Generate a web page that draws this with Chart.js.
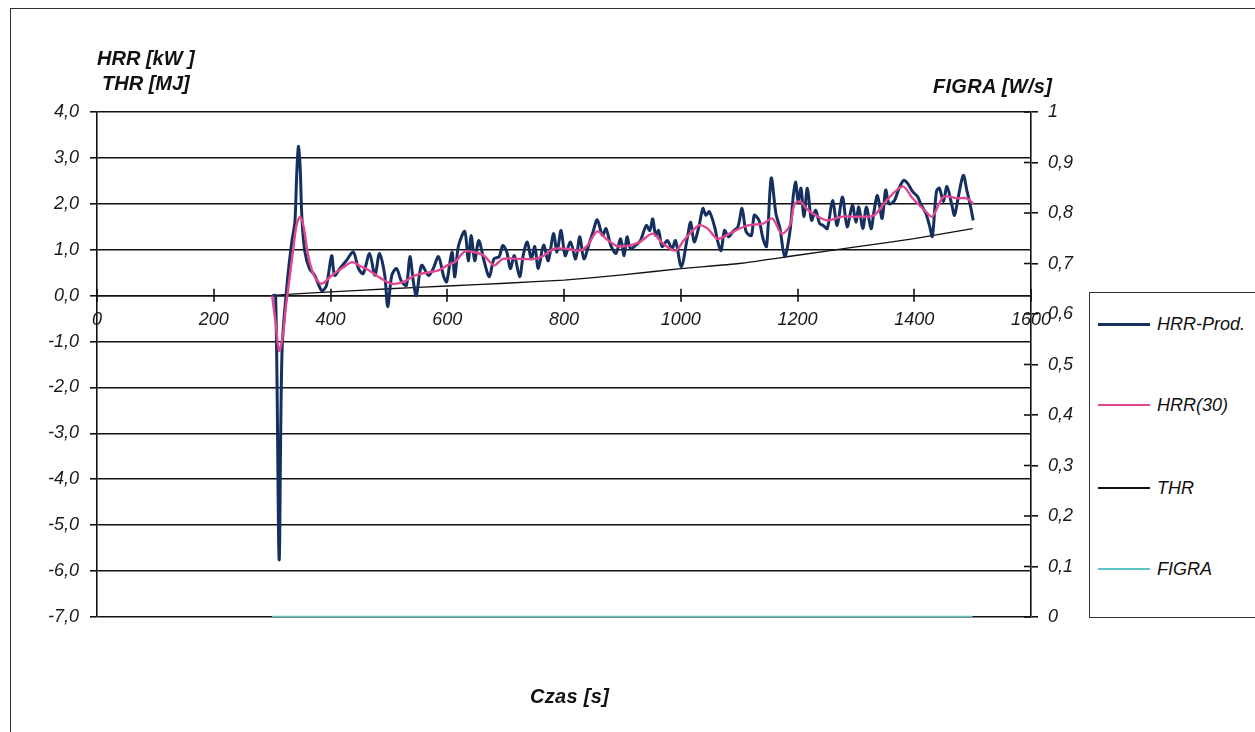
<!DOCTYPE html>
<html>
<head>
<meta charset="utf-8">
<script src="https://cdn.jsdelivr.net/npm/chart.js@4.4.1/dist/chart.umd.min.js"></script>
<style>
  html, body { margin:0; padding:0; background:#fff; width:1255px; height:732px; overflow:hidden; }
  #frame { position:absolute; left:10px; top:8px; width:1260px; height:740px; border:1.5px solid #333; box-sizing:border-box; }
  canvas { position:absolute; left:0; top:0; }
  .t { position:absolute; font-family:"Liberation Sans", Arial, sans-serif; font-weight:bold; font-style:italic; color:#111; line-height:1; white-space:nowrap; }
  #legend { position:absolute; left:1089px; top:292px; width:180px; height:326px; border:1.5px solid #333; box-sizing:border-box; background:#fff; }
  .li { position:absolute; left:0; height:20px; }
  .ls { position:absolute; left:8px; width:52px; }
  .lt { position:absolute; left:67px; top:0; font-family:"Liberation Sans", Arial, sans-serif; font-style:italic; font-size:18px; color:#111; line-height:20px; white-space:nowrap; }
</style>
</head>
<body>
<div id="frame"></div>
<canvas id="c" width="1255" height="732"></canvas>
<div class="t" style="left:97px; top:48px; font-size:20px;">HRR [kW ]</div>
<div class="t" style="left:102px; top:73px; font-size:20px;">THR [MJ]</div>
<div class="t" style="left:933px; top:76px; font-size:20px; letter-spacing:0.3px;">FIGRA [W/s]</div>
<div class="t" style="left:530px; top:686px; font-size:20px; letter-spacing:0.3px;">Czas [s]</div>
<div id="legend"></div>
<script>
// ---- data ----
const hrrProdTime = [300,306,312,317,326,334,339,342,345,348,351,356,364,373,385,393,402,407,416,427,439,448,456,467,476,484,493,498,505,513,522,530,536,542,547,556,568,576,585,594,599,608,613,619,630,636,641,647,654,663,672,680,689,695,702,708,715,724,730,737,744,750,756,765,773,782,788,795,802,811,820,827,834,843,850,857,866,872,880,889,897,903,908,914,923,931,941,947,952,957,962,968,977,985,991,1001,1011,1017,1023,1031,1038,1043,1049,1058,1063,1069,1075,1082,1089,1098,1105,1112,1121,1126,1134,1141,1147,1155,1163,1170,1178,1187,1193,1197,1201,1206,1211,1217,1224,1231,1238,1244,1251,1260,1268,1277,1285,1294,1300,1305,1312,1318,1326,1331,1337,1345,1351,1357,1366,1374,1382,1389,1397,1406,1411,1420,1426,1431,1438,1443,1450,1456,1464,1469,1475,1484,1490,1496,1501];
const hrrProdValues = [0,0,-5.75,-1.2,0.3,1.2,1.6,2.6,3.25,2.8,1.7,0.96,0.59,0.44,0.11,0.22,0.87,0.44,0.59,0.76,0.95,0.59,0.48,0.92,0.44,0.92,0.44,-0.24,0.44,0.59,0.3,0.22,0.85,0.3,0.0,0.66,0.44,0.59,0.85,0.41,0.3,0.95,0.41,1.07,1.4,0.76,1.31,0.76,1.2,0.76,0.41,0.8,0.85,1.09,0.95,0.59,0.87,0.41,0.87,1.17,0.8,1.07,0.59,1.1,0.76,1.35,0.95,1.42,0.87,1.17,0.8,1.28,0.8,1.13,1.4,1.65,1.31,1.46,1.1,0.92,1.24,0.87,1.28,1.02,1.1,1.2,1.53,1.42,1.67,1.31,1.42,1.07,1.2,1.02,1.2,0.63,1.24,1.6,1.17,1.5,1.9,1.75,1.83,1.5,1.2,0.98,1.42,1.28,1.39,1.5,1.9,1.39,1.31,1.75,1.64,1.24,1.07,2.56,1.79,1.46,0.85,1.39,2.2,2.47,2.05,2.34,1.72,2.34,1.64,1.86,1.57,1.53,1.46,2.07,1.53,2.15,1.5,1.97,1.6,1.93,1.46,1.93,1.46,1.83,2.18,1.68,2.3,2.0,2.07,2.34,2.51,2.44,2.27,2.15,2.0,1.79,1.53,1.29,2.27,2.34,2.05,2.38,2.0,1.75,2.12,2.62,2.3,1.97,1.64];

const hrr30Time = [300,306,312,318,324,330,336,342,348,354,360,366,373,385,402,420,437,450,465,487,505,525,545,565,585,600,613,630,645,663,680,695,724,750,765,782,804,827,840,857,872,889,900,915,930,952,970,991,1005,1031,1046,1063,1089,1115,1141,1157,1173,1187,1195,1205,1215,1226,1251,1277,1305,1331,1351,1380,1397,1420,1431,1450,1475,1490,1501];
const hrr30Values = [0,-0.6,-1.2,-0.9,-0.2,0.4,1.0,1.55,1.72,1.5,1.0,0.65,0.41,0.26,0.44,0.6,0.73,0.65,0.56,0.37,0.26,0.3,0.44,0.5,0.55,0.66,0.73,0.96,0.95,0.87,0.66,0.8,0.8,0.8,0.87,1.02,1.02,0.98,1.09,1.4,1.24,1.09,1.07,1.1,1.17,1.35,1.13,0.98,1.2,1.53,1.46,1.24,1.39,1.53,1.57,1.68,1.35,1.53,2.0,2.05,1.9,1.79,1.64,1.72,1.72,1.75,2.05,2.38,2.12,1.83,1.72,2.15,2.12,2.12,2.0];

const thrTime = [300,340,400,500,600,700,800,900,1000,1100,1200,1300,1400,1500];
const thrValues = [0,0.04,0.08,0.15,0.21,0.27,0.34,0.45,0.59,0.70,0.88,1.06,1.24,1.46];

const figraTime = [300,1500];
const figraValues = [0,0];

const seriesNames = ['HRR-Prod.','HRR(30)','THR','FIGRA'];
const seriesColors = ['#15305f','#e2468f','#111111','#5fc3c9'];
const seriesWidths = [3,2.4,1.3,2.5];

const xTickMin = 0, xTickMax = 1600, xTickStep = 200;
const leftMin = -7, leftMax = 4, leftStep = 1;
const rightMin = 0, rightMax = 1, rightStep = 0.1;
// --------------------------------------

function pts(t, v){ return t.map((x,i)=>({x:x, y:v[i]})); }
const comma = (v, d) => v.toFixed(d).replace('.', ',');

const crossTicks = {
  id:'crossTicks',
  beforeDatasetsDraw(chart){
    const ctx = chart.ctx, xs = chart.scales.x, ys = chart.scales.y, y2 = chart.scales.y2;
    ctx.save();
    ctx.strokeStyle = '#111'; ctx.lineWidth = 1.6;
    const y0 = ys.getPixelForValue(0);
    xs.ticks.forEach(t => { const px = Math.round(xs.getPixelForValue(t.value)); ctx.beginPath(); ctx.moveTo(px, y0-7); ctx.lineTo(px, y0+6); ctx.stroke(); });
    y2.ticks.forEach(t => { const py = y2.getPixelForValue(t.value); ctx.beginPath(); ctx.moveTo(y2.left-7, py); ctx.lineTo(y2.left, py); ctx.stroke(); });
    ctx.restore();
  }
};

const tickFont = { family:'"Liberation Sans", Arial, sans-serif', size:18, style:'italic' };

new Chart(document.getElementById('c'), {
  type:'line',
  data:{ datasets:[
    { label:seriesNames[0], data:pts(hrrProdTime,hrrProdValues), borderColor:seriesColors[0], borderWidth:seriesWidths[0], pointRadius:0, tension:0.3, yAxisID:'y', order:1 },
    { label:seriesNames[1], data:pts(hrr30Time,hrr30Values), borderColor:seriesColors[1], borderWidth:seriesWidths[1], pointRadius:0, tension:0.3, yAxisID:'y', order:0 },
    { label:seriesNames[2], data:pts(thrTime,thrValues), borderColor:seriesColors[2], borderWidth:seriesWidths[2], pointRadius:0, tension:0.2, yAxisID:'y', order:2 },
    { label:seriesNames[3], data:pts(figraTime,figraValues), borderColor:seriesColors[3], borderWidth:seriesWidths[3], pointRadius:0, yAxisID:'y2', order:3 }
  ]},
  options:{
    responsive:false, animation:false, devicePixelRatio:1,
    layout:{ padding:{ left:0, right:0, top:112, bottom:115 } },
    plugins:{ legend:{display:false}, tooltip:{enabled:false} },
    scales:{
      x:{ type:'linear', position:{y:0}, min:xTickMin, max:xTickMax,
          ticks:{ stepSize:xTickStep, font:tickFont, color:'#1a1a1a', padding:0, maxRotation:0, autoSkip:false, callback:v=>String(v) },
          grid:{ drawOnChartArea:false, drawTicks:true, tickLength:14, tickColor:'rgba(0,0,0,0)' },
          border:{ display:true, color:'#111', width:1.6 } },
      y:{ type:'linear', position:'left', min:leftMin, max:leftMax,
          ticks:{ stepSize:leftStep, font:tickFont, color:'#1a1a1a', padding:11, callback:v=>comma(v,1) },
          grid:{ color:'#111', lineWidth:1.6, drawTicks:true, tickLength:7, tickColor:'#111' },
          border:{ display:true, color:'#111', width:1.6 },
          afterFit(s){ s.width = 97; } },
      y2:{ type:'linear', position:'right', min:rightMin, max:rightMax,
          ticks:{ stepSize:rightStep, font:tickFont, color:'#1a1a1a', padding:10,
                  callback:v=>{ const r = Math.round(v*10)/10; return (r===0||r===1) ? String(r) : comma(r,1); } },
          grid:{ drawOnChartArea:false, drawTicks:true, tickLength:7, tickColor:'#111', lineWidth:1.6 },
          border:{ display:true, color:'#111', width:1.6 },
          afterFit(s){ s.width = 224; } }
    }
  },
  plugins:[crossTicks]
});

// HTML legend built from series arrays
const lg = document.getElementById('legend');
const tops = [31, 112, 195, 276];
seriesNames.forEach((n,i)=>{
  const d = document.createElement('div'); d.className='li'; d.style.top = (tops[i]-10)+'px';
  const s = document.createElement('div'); s.className='ls';
  s.style.height = seriesWidths[i]+'px'; s.style.background = seriesColors[i]; s.style.top = (10 - seriesWidths[i]/2)+'px';
  const t = document.createElement('div'); t.className='lt'; t.textContent = n;
  d.appendChild(s); d.appendChild(t); lg.appendChild(d);
});
</script>
</body>
</html>
